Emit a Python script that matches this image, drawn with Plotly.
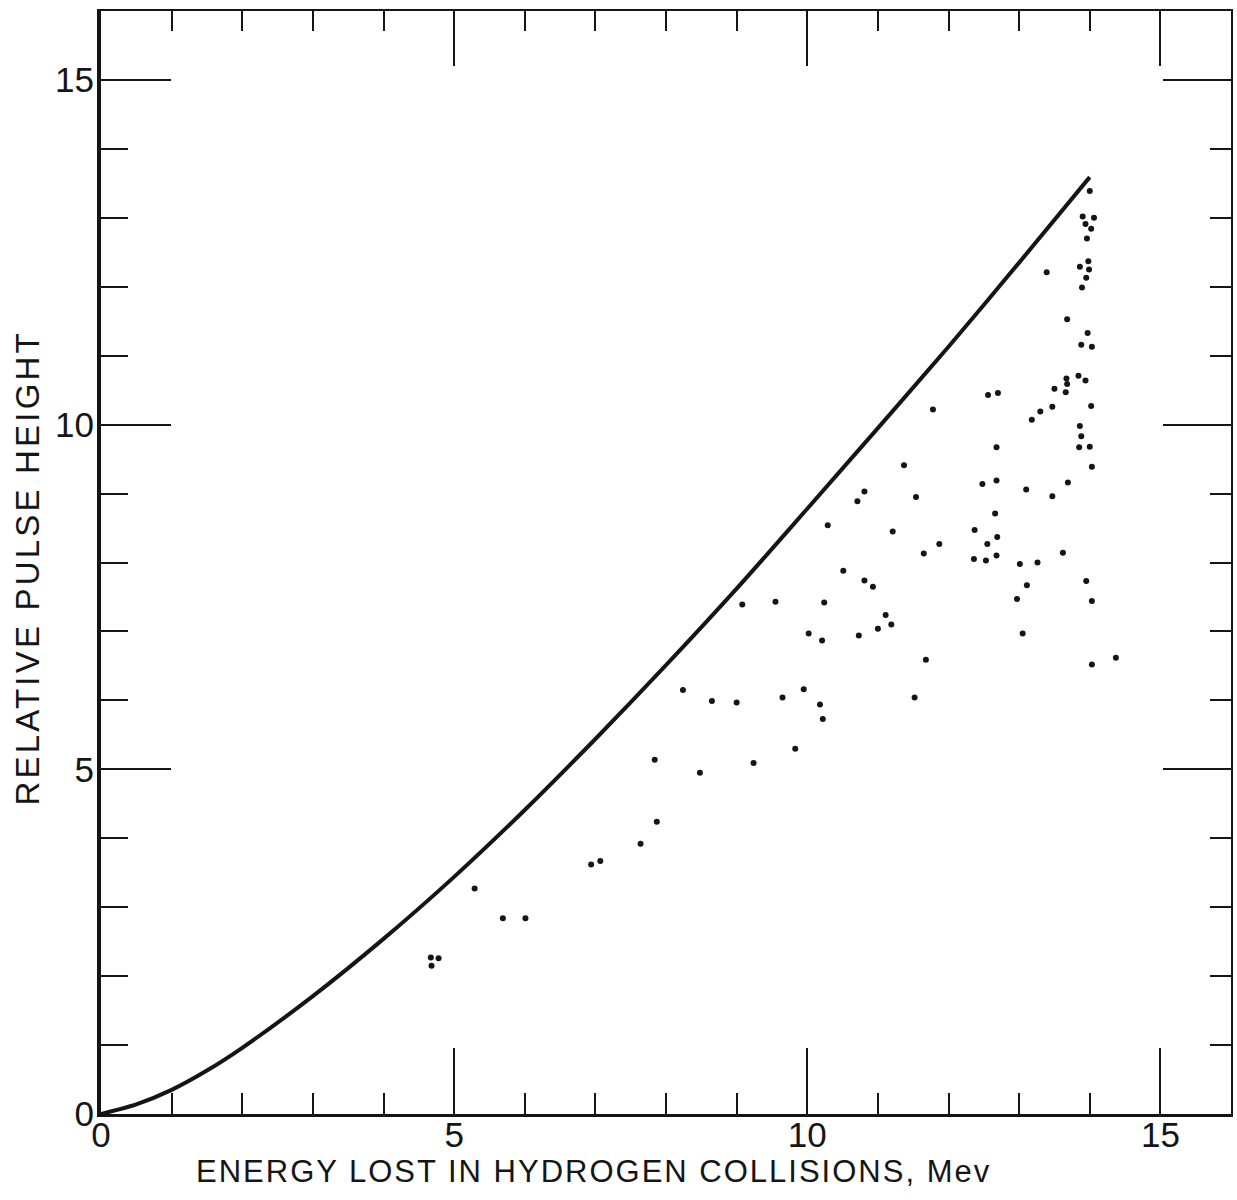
import plotly.graph_objects as go

# Response curve (solid line)
curve_energy = [0, 0.5, 1, 1.5, 2, 3, 4, 5, 6, 7, 8, 9, 10, 11, 12, 13, 14]
curve_pulse = [0, 0.14, 0.35, 0.63, 0.96, 1.71, 2.54, 3.44, 4.41, 5.44, 6.51, 7.62, 8.78, 9.95, 11.13, 12.35, 13.59]

# Measured points
point_energy = [
    4.67, 4.78, 4.68, 5.29, 5.69, 6.01, 6.94, 7.07, 7.64, 7.87,
    7.84, 8.24, 8.65, 9.00, 8.48, 9.24, 9.83, 9.65, 9.95, 10.18,
    10.22, 9.08, 9.55, 10.24, 10.02, 10.21, 10.51, 10.81, 10.93, 11.11,
    11.19, 11.00, 10.73, 10.29, 11.21, 10.71, 11.78, 11.37, 10.81, 11.54,
    11.87, 11.65, 12.56, 12.70, 13.18, 13.30, 12.68, 12.48, 12.68, 13.10,
    12.66, 12.37, 12.55, 12.69, 12.36, 12.53, 12.68, 13.01, 13.26, 13.11,
    12.97, 13.05, 13.47, 13.69, 13.62, 13.95, 14.03, 14.03, 14.37, 14.00,
    13.90, 14.06, 13.94, 14.02, 13.96, 13.86, 13.98, 13.99, 13.95, 13.89,
    13.39, 13.68, 13.97, 13.88, 14.03, 13.67, 13.68, 13.66, 13.84, 13.94,
    13.50, 13.47, 14.02, 13.86, 13.88, 13.85, 14.00, 14.03, 11.68, 11.52,
]
point_pulse = [
    2.27, 2.26, 2.15, 3.27, 2.84, 2.84, 3.62, 3.67, 3.92, 4.24,
    5.14, 6.15, 5.99, 5.97, 4.95, 5.09, 5.30, 6.04, 6.16, 5.94,
    5.73, 7.39, 7.43, 7.42, 6.97, 6.87, 7.88, 7.74, 7.65, 7.24,
    7.10, 7.04, 6.94, 8.54, 8.45, 8.89, 10.22, 9.41, 9.03, 8.95,
    8.27, 8.13, 10.43, 10.46, 10.07, 10.19, 9.67, 9.14, 9.19, 9.06,
    8.71, 8.47, 8.27, 8.37, 8.05, 8.03, 8.10, 7.98, 8.00, 7.67,
    7.47, 6.97, 8.96, 9.16, 8.14, 7.73, 7.44, 6.52, 6.62, 13.39,
    13.02, 13.00, 12.91, 12.84, 12.70, 12.29, 12.37, 12.25, 12.13, 11.99,
    12.21, 11.53, 11.33, 11.16, 11.13, 10.67, 10.59, 10.47, 10.71, 10.64,
    10.52, 10.26, 10.27, 9.98, 9.83, 9.67, 9.68, 9.39, 6.59, 6.04,
]

major_ticks = [0, 5, 10, 15]
major_labels = ["0", "5", "10", "15"]

x_title = "ENERGY LOST IN HYDROGEN COLLISIONS, Mev"
y_title = "RELATIVE PULSE HEIGHT"

FONT = "Liberation Sans"
INK = "#151515"

fig = go.Figure()
fig.add_trace(go.Scatter(
    x=curve_energy, y=curve_pulse, mode="lines",
    line=dict(color=INK, width=4, shape="spline", smoothing=0.7),
    hoverinfo="skip", showlegend=False,
))
fig.add_trace(go.Scatter(
    x=point_energy, y=point_pulse, mode="markers",
    marker=dict(color=INK, size=6, line=dict(width=0)),
    showlegend=False,
))
# empty trace to activate the mirrored (top/right) axes
fig.add_trace(go.Scatter(x=[], y=[], xaxis="x2", yaxis="y2", showlegend=False))

axis_common = dict(
    range=[0, 16], showgrid=False, zeroline=False,
    showline=True, linecolor=INK, ticks="inside", tickcolor=INK,
    tickvals=major_ticks, ticktext=major_labels, tickwidth=2,
)

fig.update_layout(
    width=1237, height=1200,
    margin=dict(l=101, r=6, t=11, b=86),
    paper_bgcolor="white", plot_bgcolor="white",
    font=dict(family=FONT, color=INK),
    xaxis=dict(
        **axis_common, linewidth=3, ticklen=66, ticklabelstandoff=-12,
        minor=dict(dtick=1, ticks="inside", ticklen=21, tickwidth=2, tickcolor=INK),
        tickfont=dict(size=35, family=FONT, color=INK),
    ),
    yaxis=dict(
        **axis_common, linewidth=4, ticklen=70, ticklabelstandoff=-4,
        minor=dict(dtick=1, ticks="inside", ticklen=27, tickwidth=2, tickcolor=INK),
        tickfont=dict(size=35, family=FONT, color=INK),
    ),
    xaxis2=dict(
        **axis_common, overlaying="x", side="top", linewidth=2, ticklen=55,
        showticklabels=False,
        minor=dict(dtick=1, ticks="inside", ticklen=20, tickwidth=2, tickcolor=INK),
    ),
    yaxis2=dict(
        **axis_common, overlaying="y", side="right", linewidth=2, ticklen=68,
        showticklabels=False,
        minor=dict(dtick=1, ticks="inside", ticklen=21, tickwidth=2, tickcolor=INK),
    ),
    annotations=[
        dict(text=x_title, xref="paper", yref="paper", x=(594 - 101) / 1130,
             y=-(1171 - 1114) / 1103, xanchor="center", yanchor="middle",
             showarrow=False, font=dict(size=31, family=FONT, color=INK)),
        dict(text=y_title, xref="paper", yref="paper", x=-(101 - 27) / 1130,
             y=(1114 - 568) / 1103, xanchor="center", yanchor="middle",
             textangle=-90, showarrow=False,
             font=dict(size=33, family=FONT, color=INK)),
    ],
)

# widen the hand-lettered titles a little (letter spacing only)
post = """
document.querySelectorAll('text.annotation-text').forEach(function(t){
  var s = t.textContent || '';
  if (s.indexOf('ENERGY') === 0) { t.style.letterSpacing = '2px'; }
  if (s.indexOf('RELATIVE') === 0) { t.style.letterSpacing = '3.2px'; }
});
"""

fig.write_html("out.html", post_script=post)
